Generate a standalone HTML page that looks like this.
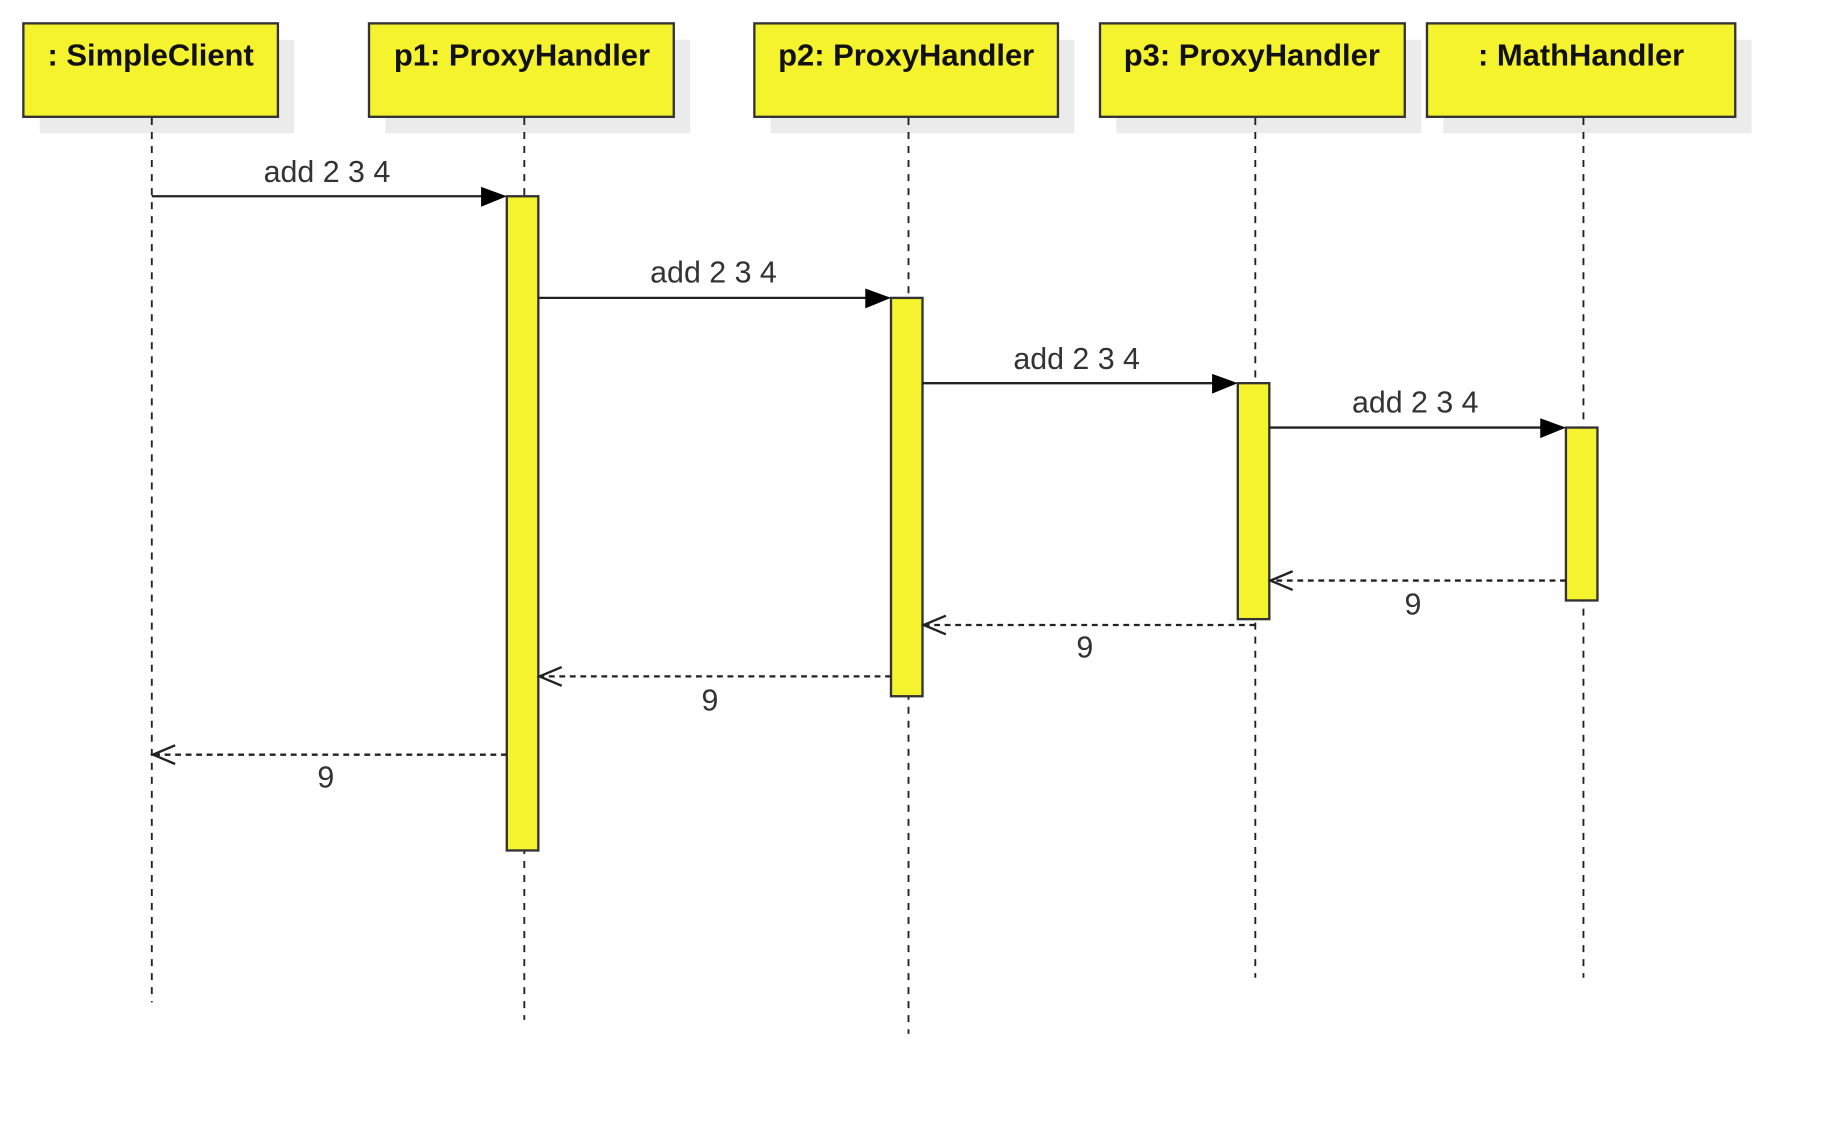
<!DOCTYPE html>
<html><head><meta charset="utf-8"><style>html,body{margin:0;padding:0;background:#fff;}svg{display:block}</style></head>
<body>
<svg width="1831" height="1139" viewBox="0 0 1568 975" preserveAspectRatio="none" xmlns="http://www.w3.org/2000/svg" font-family="Liberation Sans, sans-serif">
<g fill="#ebebeb">
<rect x="34" y="34" width="218" height="80"/>
<rect x="330" y="34" width="261" height="80"/>
<rect x="660" y="34" width="260" height="80"/>
<rect x="956" y="34" width="261" height="80"/>
<rect x="1236" y="34" width="264" height="80"/>
</g>
<g fill="#f5f22e" stroke="#333" stroke-width="2">
<rect x="20" y="20" width="218" height="80"/>
<rect x="316" y="20" width="261" height="80"/>
<rect x="646" y="20" width="260" height="80"/>
<rect x="942" y="20" width="261" height="80"/>
<rect x="1222" y="20" width="264" height="80"/>
</g>
<g font-weight="bold" font-size="26.5" text-anchor="middle" fill="#111">
<text x="129" y="56">: SimpleClient</text>
<text x="447" y="56">p1: ProxyHandler</text>
<text x="776" y="56">p2: ProxyHandler</text>
<text x="1072" y="56">p3: ProxyHandler</text>
<text x="1354" y="56">: MathHandler</text>
</g>
<g stroke="#222" stroke-width="1.6" stroke-dasharray="6,6">
<line x1="130" y1="101" x2="130" y2="858"/>
<line x1="449" y1="101" x2="449" y2="873"/>
<line x1="778" y1="101" x2="778" y2="885"/>
<line x1="1075" y1="101" x2="1075" y2="837"/>
<line x1="1356" y1="101" x2="1356" y2="837"/>
</g>
<g fill="#f5f22e" stroke="#333" stroke-width="2">
<rect x="434" y="168" width="27" height="560"/>
<rect x="763" y="255" width="27" height="341"/>
<rect x="1060" y="328" width="27" height="202"/>
<rect x="1341" y="366" width="27" height="148"/>
</g>
<g stroke="#222" stroke-width="2">
<line x1="130" y1="168" x2="420" y2="168"/>
<line x1="461" y1="255" x2="748" y2="255"/>
<line x1="790" y1="328" x2="1045" y2="328"/>
<line x1="1087" y1="366" x2="1326" y2="366"/>
</g>
<g fill="#000">
<polygon points="412,160 434,168 412,177"/>
<polygon points="741,247 763,255 741,264"/>
<polygon points="1038,320 1060,328 1038,337"/>
<polygon points="1319,358 1341,366 1319,375"/>
</g>
<g stroke="#222" stroke-width="2" stroke-dasharray="5,4" fill="none">
<line x1="1341" y1="497" x2="1088" y2="497"/>
<line x1="1075" y1="535" x2="791" y2="535"/>
<line x1="763" y1="579" x2="462" y2="579"/>
<line x1="434" y1="646" x2="131" y2="646"/>
</g>
<g stroke="#222" stroke-width="2" fill="none">
<polyline points="1107,489 1088,497 1107,505"/>
<polyline points="810,527 791,535 810,543"/>
<polyline points="481,571 462,579 481,587"/>
<polyline points="150,638 131,646 150,654"/>
</g>
<g font-size="26" text-anchor="middle" fill="#333">
<text x="280" y="156">add 2 3 4</text>
<text x="611" y="242">add 2 3 4</text>
<text x="922" y="316">add 2 3 4</text>
<text x="1212" y="353">add 2 3 4</text>
<text x="1210" y="526">9</text>
<text x="929" y="563">9</text>
<text x="608" y="608">9</text>
<text x="279" y="674">9</text>
</g>
</svg>
</body></html>
